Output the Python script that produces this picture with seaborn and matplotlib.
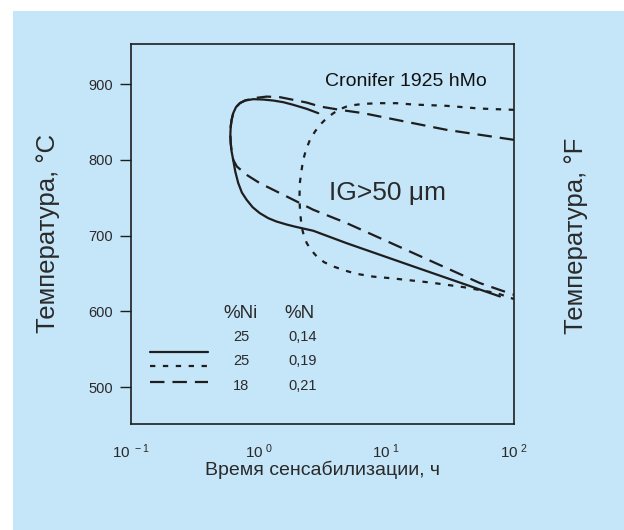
import numpy as np
import pandas as pd
import seaborn as sns
import matplotlib
matplotlib.use("Agg")
import matplotlib.pyplot as plt
from matplotlib.patches import Rectangle

# ---------------- data ----------------
# 25 %Ni, 0.14 %N (solid)
solid_t = [2.93, 2.38, 1.87, 1.56, 1.30, 1.087, 0.908, 0.782, 0.713, 0.664,
           0.632, 0.614, 0.604, 0.600, 0.604, 0.614, 0.632, 0.656, 0.692, 0.739,
           0.805, 0.897, 1.02, 1.19, 1.38, 1.66, 1.92, 2.68, 4.89, 16.3, 77.6]
solid_T = [861.7, 867.4, 872.7, 876.2, 878.4, 879.7, 880.2, 878.4, 875.0, 869.6,
           861.7, 852.9, 844.0, 833.1, 822.0, 811.0, 800.0, 784.6, 769.4, 756.9,
           747.4, 737.6, 729.8, 723.1, 718.7, 714.7, 712.0, 706.5, 690.1, 659.4,
           619.8]

# 25 %Ni, 0.19 %N (dotted)
dot_t = [100, 54.1, 29.7, 16.3, 12.0, 8.91, 6.6, 5.51, 4.89, 4.33, 3.85, 3.41,
         3.02, 2.76, 2.52, 2.35, 2.23, 2.16, 2.10, 2.09, 2.10, 2.13, 2.17, 2.25,
         2.38, 2.57, 2.85, 3.26, 3.85, 4.74, 5.85, 7.89, 10.7, 21.9, 40, 73, 100]
dot_T = [866.1, 867.8, 871.4, 873.1, 874.9, 874.9, 874.0, 872.3, 870.5, 867.0,
         861.7, 855.1, 846.3, 837.4, 826.5, 813.3, 800.0, 784.6, 769.4, 753.9,
         738.5, 725.2, 712.0, 701.1, 690.2, 681.3, 672.6, 665.0, 659.4, 654.0,
         649.7, 646.0, 644.0, 638.3, 632.2, 624.3, 616.4]

# 18 %Ni, 0.21 %N (dashed)
dash_t = [100, 29.7, 12.0, 6.6, 4.33, 3.02, 2.38, 1.87, 1.47, 1.156, 0.908,
          0.782, 0.713, 0.664, 0.632, 0.614, 0.604, 0.600, 0.604, 0.614, 0.632,
          0.676, 0.805, 1.02, 1.66, 2.68, 4.89, 16.3, 54, 100]
dash_T = [826.5, 839.7, 852.9, 861.7, 866.1, 870.5, 875.7, 879.3, 882.8, 883.6,
          881.5, 878.4, 875.0, 869.6, 861.7, 852.9, 844.0, 833.1, 822.0, 811.0,
          800.0, 791.2, 780.3, 769.4, 751.7, 734.2, 716.6, 677.0, 637.5, 622.0]

series_names = ["25 / 0,14", "25 / 0,19", "18 / 0,21"]
legend_ni = ["25", "25", "18"]
legend_n = ["0,14", "0,19", "0,21"]
x_ticks = [0.1, 1, 10, 100]
x_ticklabels = [r"$\mathregular{10^{\ -1}}$", r"$\mathregular{10^{\ 0}}$",
                r"$\mathregular{10^{\ 1}}$", r"$\mathregular{10^{\ 2}}$"]
y_ticks = [500, 600, 700, 800, 900]

# ---------------- style ----------------
sns.set_theme(style="white")
plt.rcParams["font.family"] = ["Liberation Sans", "DejaVu Sans"]
plt.rcParams["mathtext.fontset"] = "custom"
plt.rcParams["mathtext.rm"] = "Liberation Sans"

BG = "#C5E5F8"
INK = "#1e1e1e"
TXT = "#2a2a2a"

fig = plt.figure(figsize=(6.24, 5.30), dpi=100)
fig.patch.set_facecolor("white")
fig.patches.append(Rectangle((13 / 624, 0), 1 - 13 / 624, 1 - 11 / 530,
                             transform=fig.transFigure, facecolor=BG,
                             edgecolor="none", zorder=-10))

ax = fig.add_axes([131 / 624, 1 - 424 / 530, (514 - 131) / 624, (424 - 44) / 530])
ax.set_facecolor(BG)

styles = [
    (solid_t, solid_T, None, 3),
    (dot_t, dot_T, (2.4, 3.4), 2),
    (dash_t, dash_T, (6.5, 3.6), 2),
]
for name, (t, T, dsh, z) in zip(series_names, styles):
    df = pd.DataFrame({"t": t, "T": T})
    sns.lineplot(data=df, x="t", y="T", sort=False, estimator=None,
                 color=INK, linewidth=1.6, ax=ax, zorder=z)
    line = ax.lines[-1]
    line.set_solid_joinstyle("round")
    line.set_dash_joinstyle("round")
    if dsh is not None:
        line.set_dashes(dsh)
        line.set_dash_capstyle("butt")
    else:
        line.set_solid_capstyle("round")

ax.set_xscale("log")
ax.set_xlim(0.1, 100)
ax.set_ylim(451.5, 953)
ax.set_xticks(x_ticks)
ax.set_xticklabels(x_ticklabels)
ax.minorticks_off()
ax.set_yticks(y_ticks)
ax.set_yticklabels([str(v) for v in y_ticks])
ax.tick_params(axis="y", direction="out", length=8, width=1.0, color=INK,
               labelsize=10.5, labelcolor=TXT, pad=5, left=True)
ax.tick_params(axis="x", length=0, labelsize=11, labelcolor=TXT, pad=13)
for s in ax.spines.values():
    s.set_color(INK)
    s.set_linewidth(1.2)
ax.set_xlabel("")
ax.set_ylabel("")

# axis titles
fig.text(322 / 624, 1 - 470 / 530, "Время сенсабилизации, ч", ha="center",
         va="center", fontsize=14, color=TXT)
fig.text(48 / 624, 1 - 233 / 530, "Температура, °C", rotation=90, ha="center",
         va="center", fontsize=18.5, color=TXT)
fig.text(576 / 624, 1 - 236 / 530, "Температура, °F", rotation=90, ha="center",
         va="center", fontsize=18.5, color=TXT)

# annotations
ax.text(0.718, 0.901, "Cronifer 1925 hMo", transform=ax.transAxes, ha="center",
        va="center", fontsize=14, color="#111111")
ax.text(0.671, 0.608, "IG>50 μm", transform=ax.transAxes, ha="center",
        va="center", fontsize=19, color=TXT)

# hand-made legend
ax.text(0.285, 0.292, "%Ni", transform=ax.transAxes, ha="center", va="center",
        fontsize=13.5, color=TXT)
ax.text(0.441, 0.292, "%N", transform=ax.transAxes, ha="center", va="center",
        fontsize=13.5, color=TXT)
row_y = [0.230, 0.166, 0.100]
for ni, n, yy in zip(legend_ni, legend_n, row_y):
    ax.text(0.287, yy, ni, transform=ax.transAxes, ha="center", va="center",
            fontsize=10.5, color=TXT)
    ax.text(0.449, yy, n, transform=ax.transAxes, ha="center", va="center",
            fontsize=10.5, color=TXT)
line_y = [0.190, 0.153, 0.111]
for (t, T, dsh, z), yy in zip(styles, line_y):
    l, = ax.plot([0.0496, 0.201], [yy, yy], transform=ax.transAxes, color=INK,
                 linewidth=1.6)
    if dsh is not None:
        l.set_dashes(dsh)
        l.set_dash_capstyle("butt")

fig.savefig("out.png", dpi=100, facecolor=fig.get_facecolor())
